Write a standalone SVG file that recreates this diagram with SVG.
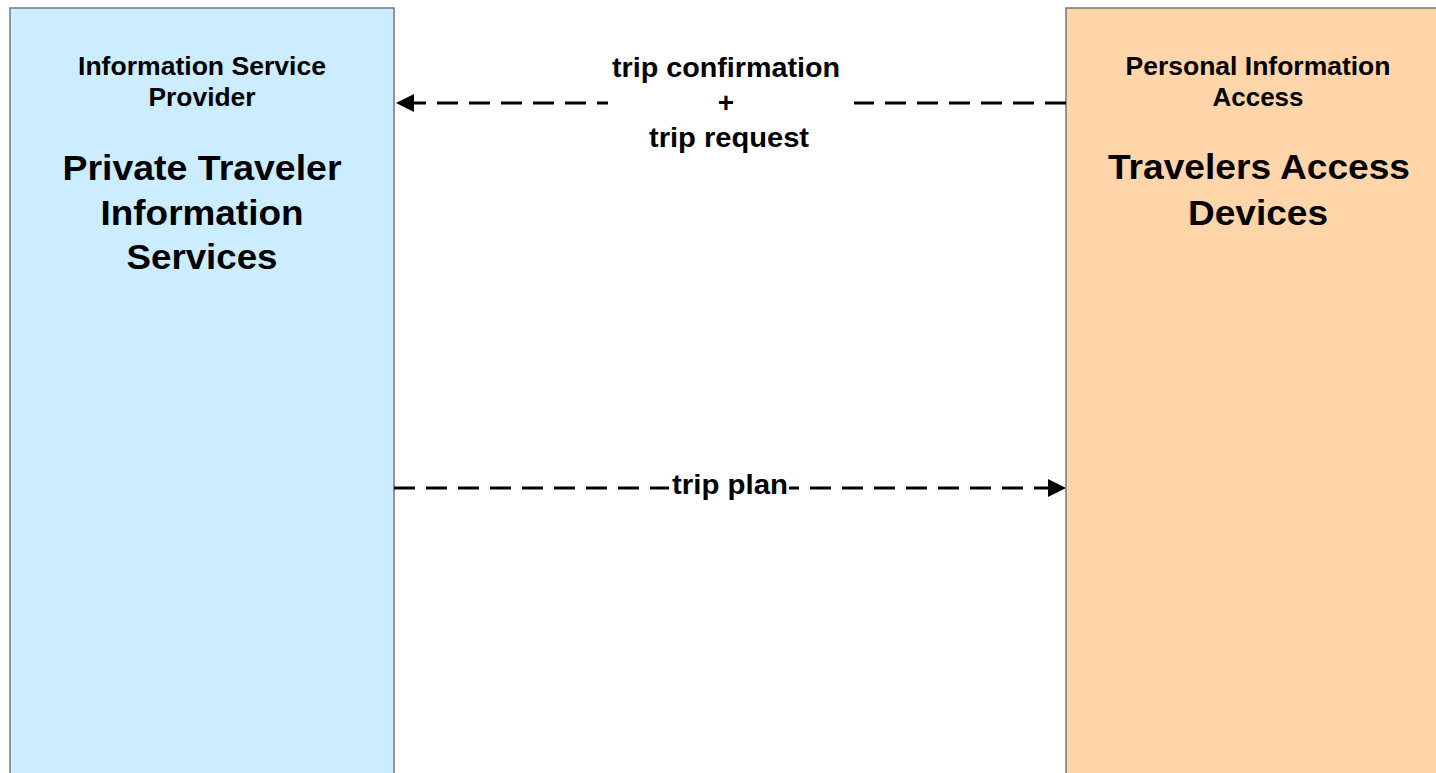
<svg xmlns="http://www.w3.org/2000/svg" width="1436" height="773" viewBox="0 0 1436 773">
  <style>
    text { font-family: "Liberation Sans", Arial, sans-serif; font-weight: bold; fill: #000; text-anchor: middle; }
    .hdr { font-size: 25px; }
    .ttl { font-size: 35px; }
    .lbl { font-size: 28px; }
    .box { stroke: #777777; stroke-width: 1.5; }
    .flow { fill: none; stroke: #000; stroke-width: 3; stroke-dasharray: 21 11; }
    .bg { fill: #ffffff; }
  </style>
  <defs>
    <marker id="arrow" markerUnits="userSpaceOnUse" markerWidth="18" markerHeight="18" viewBox="0 0 18 18" refX="18" refY="9" orient="auto">
      <path d="M0,0 L18,9 L0,18 z" fill="#000"/>
    </marker>
  </defs>
  <rect width="1436" height="773" fill="#ffffff"/>

  <g id="node-pis">
    <rect class="box" x="10" y="8" width="384" height="800" fill="#CCECFF"/>
    <text class="hdr" x="202" y="75" textLength="248" lengthAdjust="spacingAndGlyphs">Information Service</text>
    <text class="hdr" x="202" y="106" textLength="107" lengthAdjust="spacingAndGlyphs">Provider</text>
    <text class="ttl" x="202" y="180" textLength="279" lengthAdjust="spacingAndGlyphs">Private Traveler</text>
    <text class="ttl" x="202" y="224.5" textLength="203" lengthAdjust="spacingAndGlyphs">Information</text>
    <text class="ttl" x="202" y="269" textLength="151" lengthAdjust="spacingAndGlyphs">Services</text>
  </g>

  <g id="node-tad">
    <rect class="box" x="1066" y="8" width="384" height="800" fill="#FFD5A9"/>
    <text class="hdr" x="1258" y="75" textLength="265" lengthAdjust="spacingAndGlyphs">Personal Information</text>
    <text class="hdr" x="1258" y="106" textLength="91" lengthAdjust="spacingAndGlyphs">Access</text>
    <text class="ttl" x="1259" y="179" textLength="302" lengthAdjust="spacingAndGlyphs">Travelers Access</text>
    <text class="ttl" x="1258" y="224.5" textLength="140" lengthAdjust="spacingAndGlyphs">Devices</text>
  </g>

  <g id="connectors">
    <g id="flow-confirmation-request">
      <path class="flow" d="M1066,103 H396" marker-end="url(#arrow)"/>
      <rect class="bg" x="608" y="52" width="246" height="110"/>
      <text class="lbl" x="726" y="77" textLength="228" lengthAdjust="spacingAndGlyphs">trip confirmation</text>
      <text class="lbl" x="726" y="112">+</text>
      <text class="lbl" x="729" y="147" textLength="160" lengthAdjust="spacingAndGlyphs">trip request</text>
    </g>
    <g id="flow-trip-plan">
      <path class="flow" d="M394,488 H1066" marker-end="url(#arrow)"/>
      <rect class="bg" x="669" y="470" width="120" height="34"/>
      <text class="lbl" x="730" y="494" textLength="116" lengthAdjust="spacingAndGlyphs">trip plan</text>
    </g>
  </g>
</svg>
